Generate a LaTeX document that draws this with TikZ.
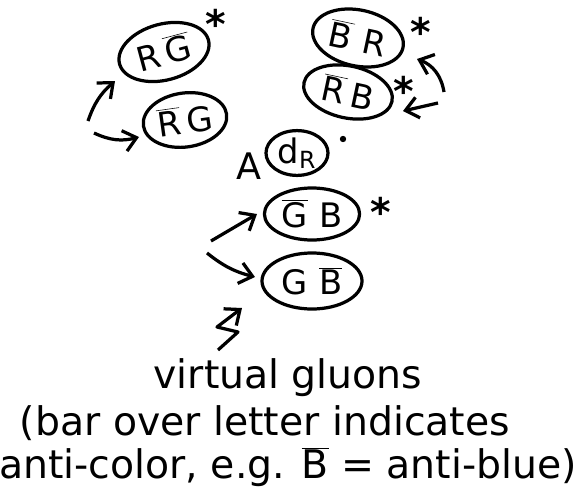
\documentclass[tikz,border=0pt]{standalone}
\usepackage{fontspec}
\setmainfont{DejaVu Sans}
\usetikzlibrary{arrows.meta}
\usetikzlibrary{shapes.geometric}

\newcommand{\anti}[1]{$\overline{\mbox{#1}}$}

\tikzset{
	pair/.style={draw,ellipse,inner sep=0pt,font=\fontsize{24}{26}\selectfont},
	excited/.style={inner sep=0pt,font=\fontsize{28}{28}\selectfont\bfseries},
	note/.style={inner sep=0pt,font=\fontsize{28}{32}\selectfont},
}

\begin{document}
\begin{tikzpicture}[x=0.025cm,y=-0.025cm,line width=2.3pt,line join=round,>={Straight Barb[length=9pt,width=15pt]}]
		\useasboundingbox (0,0) rectangle (580,494);
		
		\node[pair,minimum width=2.3cm,minimum height=1.4cm,rotate=15] (rgtop) at (164,52) {R\,\anti{G}};
		\node[pair,minimum width=2.1cm,minimum height=1.35cm,rotate=8] (rgbot) at (185,120) {\anti{R}\,G};
		\node[pair,minimum width=2.3cm,minimum height=1.4cm,rotate=-12] (brtop) at (358,38) {\anti{B}\,\,R};
		\node[pair,minimum width=2.25cm,minimum height=1.3cm,rotate=-12] (rbmid) at (348,92) {\anti{R}\,B};
		
		\node[pair,minimum width=1.55cm,minimum height=1.12cm] (dr) at (297,153) {d\textsubscript{R}};
		\node[inner sep=0pt,font=\fontsize{26}{28}\selectfont] (A) at (249,166) {A};
		\node[circle,fill,inner sep=1.6pt] (dot) at (343,139) {};
		
		\node[pair,minimum width=2.38cm,minimum height=1.3cm] (gbtop) at (312,214) {\anti{G}\,\,B};
		\node[pair,minimum width=2.5cm,minimum height=1.4cm] (gbbot) at (312,281) {G\,\,\anti{B}};
		
		\node[excited] (ex1) at (216,24) {*};
		\node[excited] (ex2) at (421,32) {*};
		\node[excited] (ex3) at (404,91) {*};
		\node[excited] (ex4) at (381,212) {*};
		
		\coordinate (a1) at (88,121);
		\coordinate (h1) at (115,81);
		\coordinate (a2) at (94,133);
		\coordinate (h2) at (139,137);
		\coordinate (a3) at (444,92);
		\coordinate (h3) at (417,59);
		\coordinate (a4) at (438,103);
		\coordinate (h4) at (403,111);
		\coordinate (a5) at (211,241);
		\coordinate (h5) at (257,214);
		\coordinate (a6) at (207,253);
		\coordinate (h6) at (255,277);
		\draw[->] (a1) to[bend left=15] (h1);
		\draw[->] (a2) to[bend right=20] (h2);
		\draw[->] (a3) to[bend right=30] (h3);
		\draw[->] (a4) -- (h4);
		\draw[->] (a5) -- (h5);
		\draw[->] (a6) to[bend right=12] (h6);
		
		\node[note] (vg) at (288,378) {virtual gluons};
		\coordinate (s1) at (218,350);
		\coordinate (s2) at (242,308);
		\draw[->] (s1) -- ++(20,-18) -- ++(-21,-5) -- (s2);
		
		\node[note] (l1) at (265,423) {(bar over letter indicates};
		\node[note] (l2) at (288,467) {anti-color, e.g. \anti{B} = anti-blue)};
		
\end{tikzpicture}
\end{document}
